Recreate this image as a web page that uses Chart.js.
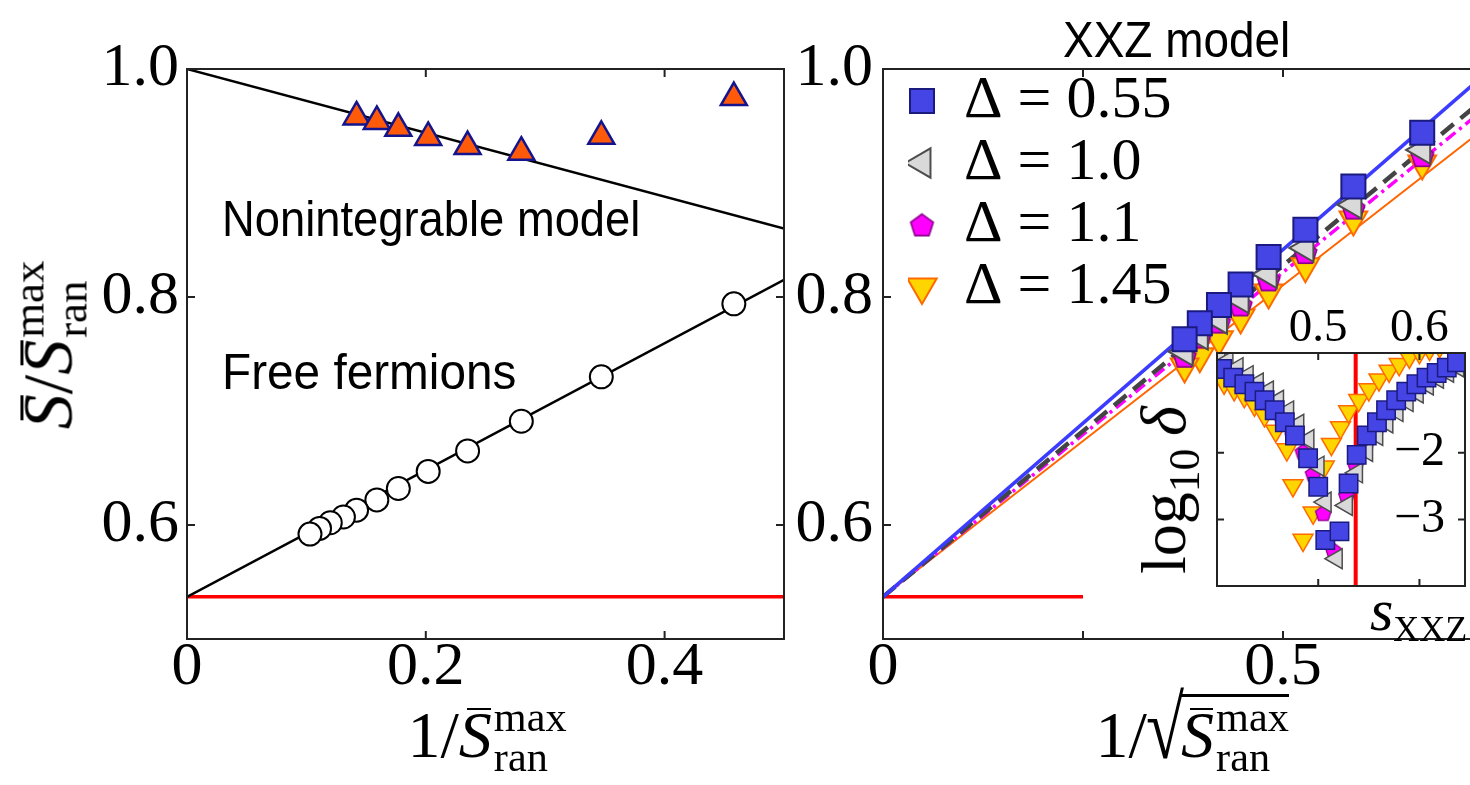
<!DOCTYPE html>
<html>
<head>
<meta charset="utf-8">
<script src="https://cdn.jsdelivr.net/npm/chart.js@4.4.1/dist/chart.umd.min.js"></script>
<style>
html,body{margin:0;padding:0;overflow:hidden;background:#fff;}
#wrap{position:relative;width:1470px;height:785px;overflow:hidden;background:#fff;}
canvas{position:absolute;}
.t{position:absolute;white-space:nowrap;color:#000;}
.sans{font-family:'Liberation Sans',Arial,sans-serif;}
.m{font-family:'Liberation Serif','Times New Roman',serif;}
.it{font-style:italic;}
.ss{display:inline-flex;flex-direction:column;font-size:0.64em;line-height:0.95;vertical-align:0.62em;margin-left:2px;font-style:normal;}
.bar{position:relative;display:inline-block;line-height:normal;font-style:italic;}
.bar::before{content:'';position:absolute;left:26%;right:2%;top:0.17em;border-top:0.045em solid #000;}
.rad{display:inline-block;transform:scale(1.05,1.35);transform-origin:50% 75%;line-height:normal;}
.vin{display:inline-block;border-top:3px solid #000;line-height:normal;margin-left:-2px;}
.rot{transform:translate(-50%,-50%) rotate(-90deg);}
</style>
</head>
<body>
<div id="wrap">
  <canvas id="cL" width="800" height="785" style="left:0;top:0"></canvas>
  <canvas id="cR" width="700" height="785" style="left:790px;top:0"></canvas>
  <canvas id="cI" width="280" height="340" style="left:1190px;top:290px"></canvas>

  <div class="t sans" id="txtNon" style="font-size:50px">Nonintegrable model</div>
  <div class="t sans" id="txtFree" style="font-size:50px">Free fermions</div>
  <div class="t sans" id="txtXXZ" style="font-size:50px">XXZ model</div>

  <div class="t m" id="xTitleL" style="font-size:66px">1/<span class="bar">S</span><span class="ss"><span>max</span><span>ran</span></span></div>
  <div class="t m" id="xTitleR" style="font-size:66px">1/<span class="rad">√</span><span class="vin"><span class="bar">S</span><span class="ss"><span>max</span><span>ran</span></span></span></div>
  <div class="t m rot" id="yTitleL" style="font-size:70px;left:50px;top:345px"><span class="bar">S</span>/<span class="bar">S</span><span class="ss"><span>max</span><span>ran</span></span></div>
  <div class="t m rot" id="yTitleI" style="font-size:64px;left:1168px;top:490px">log<span style="font-size:0.68em;vertical-align:-0.32em">10</span>&#8201;<span class="it">δ</span></div>
  <div class="t m" id="xTitleI" style="font-size:60px"><span class="it">s</span><span style="font-size:0.6em;vertical-align:-0.3em">XXZ</span></div>
</div>

<script>
// ---------------- Left panel data ----------------
const nonintX = [0.142, 0.159, 0.177, 0.202, 0.235, 0.280, 0.347, 0.458];
const nonintY = [0.958, 0.954, 0.948, 0.940, 0.932, 0.927, 0.941, 0.975];
const freeX   = [0.458, 0.347, 0.280, 0.235, 0.202, 0.177, 0.159, 0.142, 0.131, 0.120, 0.111, 0.103];
const freeY   = [0.794, 0.730, 0.691, 0.665, 0.647, 0.632, 0.622, 0.613, 0.607, 0.602, 0.597, 0.592];
const nonintFitX = [0, 0.5];
const nonintFitY = [1.0, 0.86];
const freeFitX = [0, 0.5];
const freeFitY = [0.537, 0.815];
const randomLeftX = [0, 0.5];
const randomLeftY = [0.537, 0.537];
const leftXTicks = [0, 0.2, 0.4];
const leftXTickLabels = ['0', '0.2', '0.4'];
const mainYTicks = [0.6, 0.8, 1.0];
const mainYTickLabels = ['0.6', '0.8', '1.0'];

// ---------------- Right panel data ----------------
const xxzX     = [0.674, 0.588, 0.528, 0.482, 0.447, 0.420, 0.396, 0.377];
const d055Y    = [0.944, 0.897, 0.859, 0.835, 0.811, 0.793, 0.777, 0.763];
const d10Y     = [0.929, 0.881, 0.843, 0.820, 0.798, 0.780, 0.766, 0.752];
const d11Y     = [0.924, 0.878, 0.839, 0.815, 0.793, 0.778, 0.765, 0.748];
const d145Y    = [0.917, 0.868, 0.827, 0.804, 0.782, 0.763, 0.748, 0.739];
const fitX     = [0, 0.75];
const fit055Y  = [0.537, 0.994];
const fit10Y   = [0.537, 0.973];
const fit11Y   = [0.537, 0.964];
const fit145Y  = [0.537, 0.947];
const randomRightX = [0, 0.25];
const randomRightY = [0.537, 0.537];
const rightXTicks = [0, 0.25, 0.5, 0.75];
const rightXTickLabels = ['0', '', '0.5', ''];
const legendLabels = ['Δ = 0.55', 'Δ = 1.0', 'Δ = 1.1', 'Δ = 1.45'];

// ---------------- Inset data ----------------
const in055S = [0.405, 0.416, 0.427, 0.437, 0.447, 0.457, 0.467, 0.477, 0.490, 0.500, 0.507, 0.521, 0.530, 0.538, 0.548, 0.558, 0.567, 0.577, 0.587, 0.597, 0.607, 0.617, 0.627, 0.637];
const in055Y = [-0.74, -0.87, -0.97, -1.08, -1.21, -1.36, -1.54, -1.74, -2.08, -2.51, -3.31, -3.18, -2.46, -2.03, -1.74, -1.54, -1.36, -1.21, -1.08, -0.97, -0.87, -0.80, -0.72, -0.64];
const in10S  = [0.402, 0.410, 0.420, 0.430, 0.440, 0.450, 0.460, 0.470, 0.480, 0.490, 0.500, 0.507, 0.518, 0.528, 0.538, 0.548, 0.558, 0.568, 0.578, 0.588, 0.598, 0.608, 0.618, 0.628, 0.638];
const in10Y  = [-0.55, -0.62, -0.72, -0.84, -0.95, -1.07, -1.21, -1.37, -1.57, -1.80, -2.20, -2.74, -3.59, -2.79, -2.30, -1.98, -1.74, -1.55, -1.38, -1.23, -1.10, -0.98, -0.88, -0.79, -0.71];
const in11S  = [0.405, 0.415, 0.425, 0.435, 0.445, 0.455, 0.465, 0.475, 0.485, 0.495, 0.505, 0.515, 0.528, 0.537, 0.547, 0.557, 0.567, 0.577, 0.587, 0.597, 0.607, 0.617, 0.627, 0.637];
const in11Y  = [-0.72, -0.84, -0.95, -1.07, -1.20, -1.35, -1.52, -1.73, -1.98, -2.31, -2.90, -3.46, -2.64, -2.18, -1.88, -1.66, -1.47, -1.31, -1.17, -1.05, -0.94, -0.85, -0.77, -0.69];
const in145S = [0.407, 0.417, 0.427, 0.437, 0.447, 0.458, 0.469, 0.475, 0.485, 0.495, 0.506, 0.513, 0.522, 0.530, 0.540, 0.550, 0.560, 0.570, 0.580, 0.590, 0.600, 0.610, 0.620];
const in145Y = [-0.95, -1.05, -1.15, -1.28, -1.44, -1.67, -1.95, -2.49, -3.31, -2.90, -2.21, -1.87, -1.62, -1.38, -1.21, -1.05, -0.90, -0.77, -0.67, -0.56, -0.49, -0.44, -0.40];
const insetMarkX = [0.537, 0.537];
const insetMarkY = [-4, -0.5];
const insetXTicks = [0.5, 0.6];
const insetXTickLabels = ['0.5', '0.6'];
const insetYTicks = [-3, -2];
const insetYTickLabels = ['−3', '−2'];

// ---------------- helpers ----------------
const SERIF = "'Liberation Serif', 'Times New Roman', serif";
const pts = (xs, ys) => xs.map((x, i) => ({x: x, y: ys[i]}));
const setTicks = (vals) => (scale) => { scale.ticks = vals.map(v => ({value: v})); };
const labelBy = (labels) => (v, i) => labels[i];

function pentagon(size, fill, stroke, lw) {
  const c = document.createElement('canvas');
  c.width = size; c.height = size;
  const g = c.getContext('2d');
  const r = size / 2 - lw;
  g.beginPath();
  for (let k = 0; k < 5; k++) {
    const a = -Math.PI / 2 + k * 2 * Math.PI / 5;
    const px = size / 2 + r * Math.cos(a), py = size / 2 + r * Math.sin(a) + 1;
    if (k) g.lineTo(px, py); else g.moveTo(px, py);
  }
  g.closePath();
  g.fillStyle = fill; g.fill();
  g.lineWidth = lw; g.strokeStyle = stroke; g.stroke();
  return c;
}
const pentBig = pentagon(27, '#ff00ff', '#8a008a', 1.6);
const pentSmall = pentagon(19, '#ff00ff', '#8a008a', 1.3);

const frameTicks = {
  id: 'frameTicks',
  beforeDraw(chart, args, o) {
    if (o.fill) {
      const a = chart.chartArea, ctx = chart.ctx;
      ctx.save(); ctx.fillStyle = o.fill;
      ctx.fillRect(a.left, a.top, a.width, a.height); ctx.restore();
    }
  },
  afterDatasetsDraw(chart, args, o) {
    const {ctx, chartArea: a, scales} = chart;
    ctx.save();
    ctx.strokeStyle = o.color || '#222';
    ctx.lineWidth = o.width || 2;
    ctx.strokeRect(a.left, a.top, a.width, a.height);
    const L = o.len || 8;
    ctx.beginPath();
    (o.xTicks || []).forEach(v => {
      const x = scales.x.getPixelForValue(v);
      ctx.moveTo(x, a.bottom); ctx.lineTo(x, a.bottom - L);
      ctx.moveTo(x, a.top); ctx.lineTo(x, a.top + L);
    });
    (o.yTicks || []).forEach(v => {
      const y = scales.y.getPixelForValue(v);
      ctx.moveTo(a.left, y); ctx.lineTo(a.left + L, y);
      ctx.moveTo(a.right, y); ctx.lineTo(a.right - L, y);
    });
    ctx.stroke();
    ctx.restore();
  }
};

const legendPlace = {
  id: 'legendPlace',
  afterLayout(chart, args, o) {
    const lg = chart.legend;
    if (!lg) return;
    const a = chart.chartArea;
    const w = lg.width;
    lg.left = a.left + (o.dx || 0);
    lg.top = a.top + (o.dy || 0);
    lg.right = lg.left + w;
    lg.bottom = lg.top + a.height;
    lg.height = a.height;
  }
};

Chart.defaults.font.family = SERIF;
Chart.defaults.color = '#000';

const baseOpts = {
  responsive: false,
  animation: false,
  devicePixelRatio: 1,
  events: [],
};

function axisX(min, max, ticks, labels, size, pad, pos, h) {
  return {
    type: 'linear', position: pos || 'bottom', min: min, max: max,
    afterBuildTicks: setTicks(ticks),
    ticks: {callback: labelBy(labels), font: {family: SERIF, size: size}, color: '#000',
            padding: pad, maxRotation: 0, minRotation: 0, autoSkip: false},
    grid: {display: false, drawTicks: false},
    border: {display: false},
    afterFit: (s) => { s.height = h; }
  };
}
function axisY(min, max, ticks, labels, size, pad, pos, w, mirror) {
  return {
    type: 'linear', position: pos || 'left', min: min, max: max,
    afterBuildTicks: setTicks(ticks),
    ticks: {callback: labelBy(labels), font: {family: SERIF, size: size}, color: '#000',
            padding: pad, autoSkip: false, mirror: !!mirror},
    grid: {display: false, drawTicks: false},
    border: {display: false},
    afterFit: (s) => { s.width = w; s.paddingTop = 0; s.paddingBottom = 0; }
  };
}

// ---------------- Left chart ----------------
new Chart(document.getElementById('cL'), {
  type: 'scatter',
  data: {
    datasets: [
      {label: 'Nonintegrable', data: pts(nonintX, nonintY), pointStyle: 'triangle', pointRadius: 15,
       pointBackgroundColor: '#ff5a0a', pointBorderColor: '#14148c', pointBorderWidth: 2.5, showLine: false},
      {label: 'Free fermions', data: pts(freeX, freeY), pointStyle: 'circle', pointRadius: 11.5,
       pointBackgroundColor: '#ffffff', pointBorderColor: '#000000', pointBorderWidth: 2, showLine: false},
      {label: 'fit nonint', data: pts(nonintFitX, nonintFitY), showLine: true, pointRadius: 0,
       borderColor: '#000', borderWidth: 2.5},
      {label: 'fit free', data: pts(freeFitX, freeFitY), showLine: true, pointRadius: 0,
       borderColor: '#000', borderWidth: 2.5},
      {label: 'random', data: pts(randomLeftX, randomLeftY), showLine: true, pointRadius: 0,
       borderColor: '#ff0000', borderWidth: 3.5}
    ]
  },
  options: Object.assign({}, baseOpts, {
    layout: {padding: {left: 0, top: 69, right: 16, bottom: 0}, autoPadding: false},
    scales: {
      x: axisX(0, 0.5, leftXTicks, leftXTickLabels, 62, -8, 'bottom', 146),
      y: axisY(0.5, 1.0, mainYTicks, mainYTickLabels, 62, 8, 'left', 187)
    },
    plugins: {
      legend: {display: false}, tooltip: {enabled: false},
      frameTicks: {xTicks: [0.2, 0.4], yTicks: [0.6, 0.8], color: '#222', width: 2, len: 8}
    }
  }),
  plugins: [frameTicks]
});

// ---------------- Right chart ----------------
new Chart(document.getElementById('cR'), {
  type: 'scatter',
  data: {
    datasets: [
      {label: legendLabels[0], data: pts(xxzX, d055Y), pointStyle: 'rect', pointRadius: 17,
       pointBackgroundColor: '#4545e6', pointBorderColor: '#1a1a80', pointBorderWidth: 2, showLine: false},
      {label: legendLabels[1], data: pts(xxzX, d10Y), pointStyle: 'triangle', pointRotation: 270, pointRadius: 16,
       pointBackgroundColor: '#d9d9d9', pointBorderColor: '#4d4d4d', pointBorderWidth: 2, showLine: false},
      {label: legendLabels[2], data: pts(xxzX, d11Y), pointStyle: pentBig, pointRadius: 13,
       pointBackgroundColor: '#ff00ff', pointBorderColor: '#8a008a', pointBorderWidth: 2, showLine: false},
      {label: legendLabels[3], data: pts(xxzX, d145Y), pointStyle: 'triangle', pointRotation: 180, pointRadius: 16,
       pointBackgroundColor: '#ffd500', pointBorderColor: '#ff6a00', pointBorderWidth: 2, showLine: false},
      {label: 'fit055', data: pts(fitX, fit055Y), showLine: true, pointRadius: 0, borderColor: '#3c3cff', borderWidth: 3.5},
      {label: 'fit10', data: pts(fitX, fit10Y), showLine: true, pointRadius: 0, borderColor: '#444444', borderWidth: 4.5, borderDash: [16, 9]},
      {label: 'fit11', data: pts(fitX, fit11Y), showLine: true, pointRadius: 0, borderColor: '#ff00ff', borderWidth: 3.5, borderDash: [12, 5, 3, 5]},
      {label: 'fit145', data: pts(fitX, fit145Y), showLine: true, pointRadius: 0, borderColor: '#ff6600', borderWidth: 2},
      {label: 'random', data: pts(randomRightX, randomRightY), showLine: true, pointRadius: 0, borderColor: '#ff0000', borderWidth: 3.5}
    ]
  },
  options: Object.assign({}, baseOpts, {
    layout: {padding: {left: 0, top: 69, right: 7, bottom: 0}, autoPadding: false},
    scales: {
      x: axisX(0, 0.75, rightXTicks, rightXTickLabels, 62, -8, 'bottom', 146),
      y: axisY(0.5, 1.0, mainYTicks, mainYTickLabels, 62, 10, 'left', 93)
    },
    plugins: {
      tooltip: {enabled: false},
      legend: {
        display: true, position: 'chartArea', align: 'start',
        labels: {
          usePointStyle: true, boxWidth: 24, boxHeight: 24, padding: 2, color: '#000',
          font: {family: SERIF, size: 60},
          generateLabels: (chart) => Chart.defaults.plugins.legend.labels.generateLabels(chart)
            .filter(l => l.datasetIndex < 4).map(l => Object.assign(l, {lineWidth: 2}))
        }
      },
      legendPlace: {dx: 25, dy: 0},
      frameTicks: {xTicks: [0.25, 0.5], yTicks: [0.6, 0.8], color: '#222', width: 2, len: 8}
    }
  }),
  plugins: [frameTicks, legendPlace]
});

// ---------------- Inset chart ----------------
new Chart(document.getElementById('cI'), {
  type: 'scatter',
  data: {
    datasets: [
      {label: legendLabels[0], data: pts(in055S, in055Y), pointStyle: 'rect', pointRadius: 13, clip: 0,
       pointBackgroundColor: '#4545e6', pointBorderColor: '#1a1a80', pointBorderWidth: 1.5, showLine: false},
      {label: legendLabels[1], data: pts(in10S, in10Y), pointStyle: 'triangle', pointRotation: 270, pointRadius: 11.5, clip: 0,
       pointBackgroundColor: '#d9d9d9', pointBorderColor: '#4d4d4d', pointBorderWidth: 1.5, showLine: false},
      {label: legendLabels[2], data: pts(in11S, in11Y), pointStyle: pentSmall, pointRadius: 9, clip: 0,
       pointBackgroundColor: '#ff00ff', pointBorderColor: '#8a008a', pointBorderWidth: 1.5, showLine: false},
      {label: legendLabels[3], data: pts(in145S, in145Y), pointStyle: 'triangle', pointRotation: 180, pointRadius: 11.5, clip: 0,
       pointBackgroundColor: '#ffd500', pointBorderColor: '#ff6a00', pointBorderWidth: 1.5, showLine: false},
      {label: 'mark', data: pts(insetMarkX, insetMarkY), showLine: true, pointRadius: 0, clip: 0,
       borderColor: '#ff0000', borderWidth: 4}
    ]
  },
  options: Object.assign({}, baseOpts, {
    layout: {padding: {left: 27, top: 13, right: 5, bottom: 44}, autoPadding: false},
    scales: {
      x: axisX(0.4, 0.645, insetXTicks, insetXTickLabels, 47, -4, 'top', 50),
      y: axisY(-4, -0.5, insetYTicks, insetYTickLabels, 48, 177, 'left', 0, true)
    },
    plugins: {
      legend: {display: false}, tooltip: {enabled: false},
      frameTicks: {xTicks: [0.5, 0.6], yTicks: [-3, -2], color: '#222', width: 2, len: 7, fill: '#ffffff'}
    }
  }),
  plugins: [frameTicks]
});

// ---------------- text placement ----------------
function place(id, x, baseline, align, width) {
  const el = document.getElementById(id);
  const mk = document.createElement('span');
  mk.style.cssText = 'display:inline-block;width:0;height:0;vertical-align:baseline;';
  el.appendChild(mk);
  el.style.left = '0px'; el.style.top = '0px';
  const off = mk.offsetTop + mk.offsetHeight;
  const w = el.offsetWidth;
  let sx = 1;
  if (width) { sx = width / w; el.style.transformOrigin = '0 0'; el.style.transform = 'scaleX(' + sx + ')'; }
  const vw = w * sx;
  el.style.left = (align === 'center' ? x - vw / 2 : x) + 'px';
  el.style.top = (baseline - off) + 'px';
}
place('txtNon', 222, 236, 'left', 418);
place('txtFree', 222, 389, 'left', 294);
place('txtXXZ', 1063, 57, 'left', 227);
place('xTitleL', 487, 757, 'center');
place('xTitleR', 1192, 757, 'center');
place('xTitleI', 1370, 630, 'left');
</script>
</body>
</html>
